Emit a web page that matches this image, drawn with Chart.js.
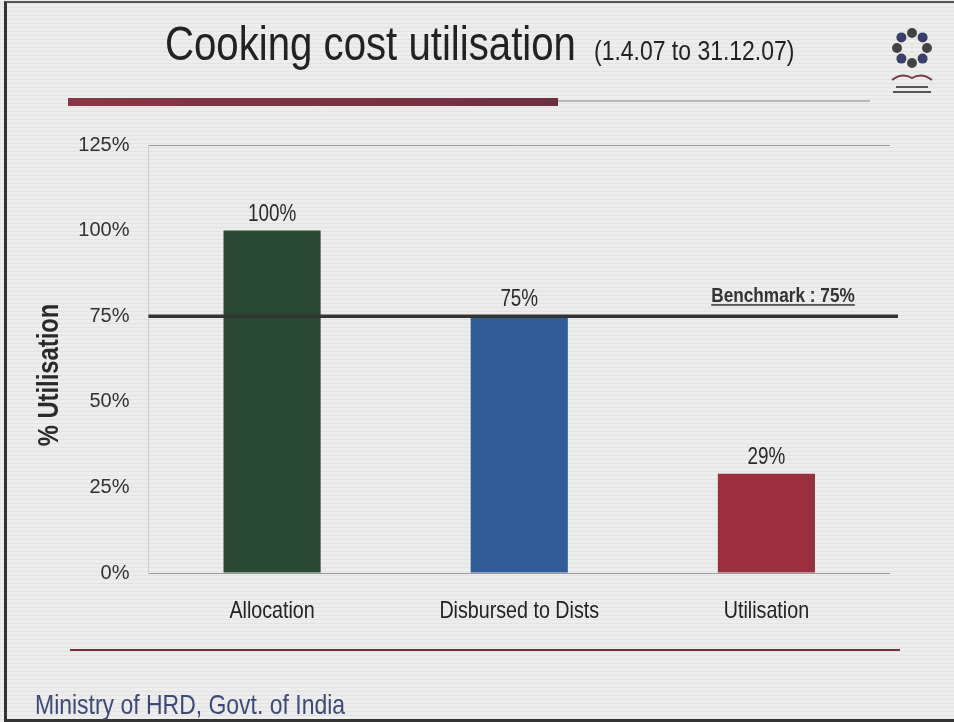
<!DOCTYPE html>
<html>
<head>
<meta charset="utf-8">
<script src="https://cdn.jsdelivr.net/npm/chart.js@4.4.1/dist/chart.umd.min.js"></script>
<style>
  html, body { margin: 0; padding: 0; }
  body {
    width: 954px; height: 722px; overflow: hidden; position: relative;
    background: repeating-linear-gradient(to bottom, #ededed 0px, #ededed 3px, #e3e3e3 3px, #e3e3e3 4px);
  }
  #frame {
    position: absolute; left: 4px; top: 1px; width: 960px; height: 716px;
    border-left: 3px solid #333; border-top: 2px solid #555; border-bottom: 3px solid #333;
  }
  #wrap { position: absolute; left: 0; top: 0; width: 954px; height: 722px; }
</style>
</head>
<body>
<div id="frame"></div>
<div id="wrap"><canvas id="chart"></canvas></div>
<script>
const categories = ['Allocation', 'Disbursed to Dists', 'Utilisation'];
const values = [100, 75, 29];
const barColors = ['#2b4a36', '#2f5b96', '#9b2f3e'];
const yTicks = [0, 25, 50, 75, 100, 125];
const benchmark = 75;

const SANS = "'Liberation Sans', Arial, sans-serif";

// Arial Narrow look: Liberation Sans squeezed sideways
function narrowText(ctx, text, x, y, font, align, color) {
  ctx.save();
  ctx.font = font;
  ctx.fillStyle = color;
  ctx.textAlign = align;
  ctx.translate(x, y);
  ctx.scale(0.82, 1);
  ctx.fillText(text, 0, 0);
  const w = ctx.measureText(text).width * 0.82;
  ctx.restore();
  return w;
}

// titles, benchmark line, value labels and slide decoration
const slidePlugin = {
  id: 'slide',
  afterDraw(chart) {
    const ctx = chart.ctx;
    const x = chart.scales.x;
    const y = chart.scales.y;
    const area = chart.chartArea;
    ctx.save();
    ctx.textBaseline = 'alphabetic';

    // title
    narrowText(ctx, 'Cooking cost utilisation', 165, 60, '49px ' + SANS, 'left', '#222');
    narrowText(ctx, '(1.4.07 to 31.12.07)', 594, 60, '28px ' + SANS, 'left', '#222');

    // rule under title
    const g = ctx.createLinearGradient(68, 0, 558, 0);
    g.addColorStop(0, '#8a3646');
    g.addColorStop(1, '#6e3040');
    ctx.fillStyle = g;
    ctx.fillRect(68, 98, 490, 8);
    ctx.fillStyle = '#b9b9b9';
    ctx.fillRect(558, 100, 312, 2);

    // logo
    const cx = 912, cy = 48;
    for (let i = 0; i < 8; i++) {
      const a = i * Math.PI / 4;
      ctx.beginPath();
      ctx.arc(cx + Math.cos(a) * 15, cy + Math.sin(a) * 15, 5, 0, Math.PI * 2);
      ctx.fillStyle = i % 2 ? '#3a3f6a' : '#444';
      ctx.fill();
    }
    ctx.beginPath();
    ctx.strokeStyle = '#7a3a44';
    ctx.lineWidth = 2;
    ctx.moveTo(892, 80); ctx.quadraticCurveTo(902, 72, 912, 78); ctx.quadraticCurveTo(922, 72, 932, 80);
    ctx.stroke();
    ctx.fillStyle = '#555';
    ctx.fillRect(896, 86, 32, 2);
    ctx.fillRect(893, 91, 38, 2);

    // benchmark line
    const by = y.getPixelForValue(benchmark);
    ctx.strokeStyle = '#333';
    ctx.lineWidth = 3.5;
    ctx.beginPath();
    ctx.moveTo(area.left, by);
    ctx.lineTo(898, by);
    ctx.stroke();
    const w = narrowText(ctx, 'Benchmark : ' + benchmark + '%', 783, by - 14, 'bold 21px ' + SANS, 'center', '#333');
    ctx.fillStyle = '#333';
    ctx.fillRect(783 - w / 2, by - 12, w, 1.5);

    // value labels
    chart.getDatasetMeta(0).data.forEach((bar, i) => {
      narrowText(ctx, values[i] + '%', bar.x, bar.y - 10, '23px ' + SANS, 'center', '#2a2a2a');
    });

    // category labels in narrow type, placed on the x scale's ticks
    categories.forEach((c, i) => {
      narrowText(ctx, c, x.getPixelForTick(i), area.bottom + 45, '24px ' + SANS, 'center', '#222');
    });

    // y axis title
    ctx.save();
    ctx.translate(50, 375);
    ctx.rotate(-Math.PI / 2);
    ctx.textBaseline = 'middle';
    narrowText(ctx, '% Utilisation', 0, 0, 'bold 29px ' + SANS, 'center', '#2a2a2a');
    ctx.restore();

    // bottom rule and footer
    ctx.fillStyle = '#7a2e3c';
    ctx.fillRect(70, 649, 830, 2);
    narrowText(ctx, 'Ministry of HRD, Govt. of India', 35, 714, '28px ' + SANS, 'left', '#3f4a78');

    ctx.restore();
  }
};

new Chart(document.getElementById('chart'), {
  type: 'bar',
  data: {
    labels: categories,
    datasets: [{
      data: values,
      backgroundColor: barColors,
      borderWidth: 0,
      categoryPercentage: 1,
      barPercentage: 0.393
    }]
  },
  options: {
    responsive: true,
    maintainAspectRatio: false,
    animation: false,
    layout: { padding: { top: 145, right: 64, bottom: 0, left: 0 } },
    plugins: { legend: { display: false }, tooltip: { enabled: false } },
    scales: {
      x: {
        afterFit(s) { s.height = 149; },
        grid: { display: false, drawTicks: false },
        border: { display: false },
        ticks: { display: false }
      },
      y: {
        min: 0, max: 125,
        afterFit(s) { s.width = 148.5; },
        afterBuildTicks(s) { s.ticks = yTicks.map(v => ({ value: v })); },
        grid: {
          drawTicks: false,
          color: ctx => (ctx.tick.value === 0 || ctx.tick.value === 125) ? '#9a9a9a' : 'rgba(0,0,0,0)'
        },
        border: { color: '#cfcfcf' },
        ticks: {
          color: '#333', padding: 19,
          font: { family: SANS, size: 20 },
          callback: v => v + '%'
        }
      }
    }
  },
  plugins: [slidePlugin]
});
</script>
</body>
</html>
